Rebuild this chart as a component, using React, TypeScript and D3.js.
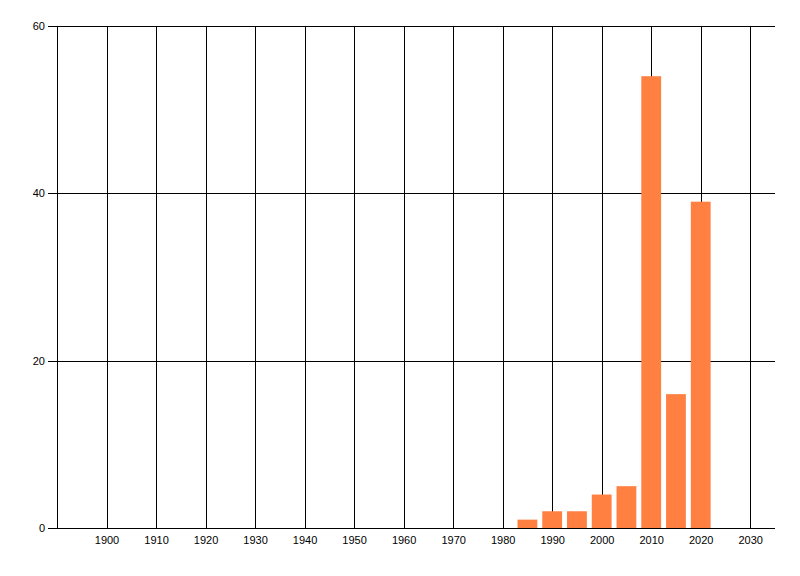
import React, { useRef, useEffect } from 'react'
import * as d3 from 'd3'

const years = [1985, 1990, 1995, 2000, 2005, 2010, 2015, 2020]
const counts = [1, 2, 2, 4, 5, 54, 16, 39]
const xTicks = [1900, 1910, 1920, 1930, 1940, 1950, 1960, 1970, 1980, 1990, 2000, 2010, 2020, 2030]
const yTicks = [0, 20, 40, 60]

const width = 800
const height = 576

export default function App() {
  const svgRef = useRef<SVGSVGElement>(null)

  useEffect(() => {
    if (!svgRef.current) return
    const svg = d3.select(svgRef.current)
    svg.selectAll('*').remove()

    const margin = { top: 26, right: 25, bottom: 48, left: 57 }
    const innerW = width - margin.left - margin.right
    const innerH = height - margin.top - margin.bottom

    const g = svg.append('g').attr('transform', `translate(${margin.left},${margin.top})`)

    const x = d3.scaleLinear().domain([1890, 2035]).range([0, innerW])
    const y = d3.scaleLinear().domain([0, 60]).range([innerH, 0])

    const font = '"Liberation Sans", Arial, sans-serif'

    // vertical grid lines
    g.selectAll('.vgrid')
      .data(xTicks)
      .enter()
      .append('line')
      .attr('x1', d => Math.round(x(d)) + 0.5)
      .attr('x2', d => Math.round(x(d)) + 0.5)
      .attr('y1', 0)
      .attr('y2', innerH)
      .attr('stroke', '#000')
      .attr('stroke-width', 1)

    // horizontal grid lines with tick stubs
    g.selectAll('.hgrid')
      .data(yTicks)
      .enter()
      .append('line')
      .attr('x1', -9)
      .attr('x2', innerW)
      .attr('y1', d => Math.round(y(d)) + 0.5)
      .attr('y2', d => Math.round(y(d)) + 0.5)
      .attr('stroke', '#000')
      .attr('stroke-width', 1)

    // bars
    const barW = x(1889) - x(1885)
    g.selectAll('.bar')
      .data(years.map((yr, i) => ({ yr, v: counts[i] })))
      .enter()
      .append('rect')
      .attr('x', d => x(d.yr) - barW / 2)
      .attr('y', d => y(d.v))
      .attr('width', barW)
      .attr('height', d => innerH - y(d.v))
      .attr('fill', '#ff8040')

    // axes lines
    g.append('line')
      .attr('x1', 0.5).attr('x2', 0.5)
      .attr('y1', 0).attr('y2', innerH)
      .attr('stroke', '#000')
    g.append('line')
      .attr('x1', -9).attr('x2', innerW)
      .attr('y1', Math.round(innerH) + 0.5).attr('y2', Math.round(innerH) + 0.5)
      .attr('stroke', '#000')

    // y labels
    g.selectAll('.ylab')
      .data(yTicks)
      .enter()
      .append('text')
      .attr('x', -12)
      .attr('y', d => y(d))
      .attr('dy', '0.35em')
      .attr('text-anchor', 'end')
      .attr('font-family', font)
      .attr('font-size', 11)
      .attr('fill', '#000')
      .text(d => d)

    // x labels
    g.selectAll('.xlab')
      .data(xTicks)
      .enter()
      .append('text')
      .attr('x', d => x(d) + 0.5)
      .attr('y', innerH + 12)
      .attr('dy', '0.35em')
      .attr('text-anchor', 'middle')
      .attr('font-family', font)
      .attr('font-size', 11)
      .attr('fill', '#000')
      .text(d => d)
  }, [])

  return (
    <svg
      ref={svgRef}
      width={width}
      height={height}
      style={{ position: 'absolute', left: 0, top: 0, background: '#fff' }}
    />
  )
}
